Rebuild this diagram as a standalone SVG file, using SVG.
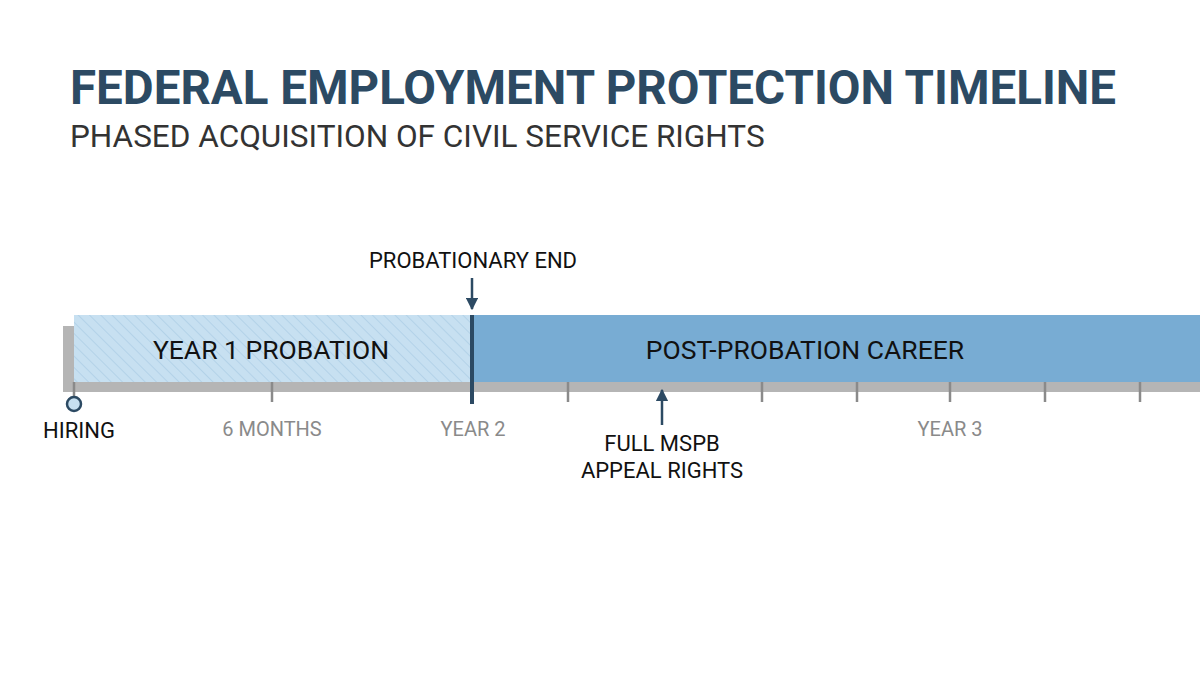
<svg xmlns="http://www.w3.org/2000/svg" width="1200" height="675" viewBox="0 0 1200 675">
<defs>
<pattern id="hatch" width="8" height="8" patternUnits="userSpaceOnUse" patternTransform="rotate(-45)">
<rect width="8" height="8" fill="#c7e0f1"/><line x1="0" y1="0" x2="0" y2="8" stroke="#b3d2e8" stroke-width="2"/>
</pattern>
<marker id="ah" viewBox="0 0 10 10" refX="9" refY="5" markerWidth="5" markerHeight="5" orient="auto"><path d="M0,0L10,5L0,10z" fill="#2c4a63"/></marker>
<style>
text{font-family:Roboto,"Liberation Sans",sans-serif}
.lbl{font-size:26.5px;fill:#111}
.sm{font-size:22px;fill:#111}
.gr{font-size:20px;fill:#8a8a8a}
.tick{stroke:#8a8a8a;stroke-width:2.5}
</style>
</defs>
<rect width="1200" height="675" fill="#fff"/>
<text x="70" y="104" font-size="47.5" font-weight="bold" fill="#2c4a63">FEDERAL EMPLOYMENT PROTECTION TIMELINE</text>
<text x="70" y="147" font-size="31.5" fill="#333">PHASED ACQUISITION OF CIVIL SERVICE RIGHTS</text>
<rect x="63" y="326" width="1137" height="66" fill="#b5b5b5"/>
<g id="probation"><rect x="74" y="315" width="397" height="67" fill="url(#hatch)"/><text class="lbl" x="271" y="359" text-anchor="middle">YEAR 1 PROBATION</text></g>
<g id="career"><rect x="473" y="315" width="727" height="67" fill="#78acd3"/><text class="lbl" x="805" y="359" text-anchor="middle">POST-PROBATION CAREER</text></g>
<g id="ticks">
<line class="tick" x1="74" y1="382" x2="74" y2="398"/>
<line class="tick" x1="272" y1="382" x2="272" y2="402"/>
<line class="tick" x1="568" y1="382" x2="568" y2="402"/>
<line class="tick" x1="762" y1="382" x2="762" y2="402"/>
<line class="tick" x1="857" y1="382" x2="857" y2="402"/>
<line class="tick" x1="950" y1="382" x2="950" y2="402"/>
<line class="tick" x1="1045" y1="382" x2="1045" y2="402"/>
<line class="tick" x1="1140" y1="382" x2="1140" y2="402"/>
</g>
<g id="marker-end"><line x1="472" y1="315" x2="472" y2="404" stroke="#2c4a63" stroke-width="4"/></g>
<g id="hiring"><circle cx="74" cy="404" r="7" fill="#c7e0f1" stroke="#2c4a63" stroke-width="2.5"/><text class="sm" x="79" y="438" text-anchor="middle">HIRING</text></g>
<text class="gr" x="272" y="436" text-anchor="middle">6 MONTHS</text>
<text class="gr" x="473" y="436" text-anchor="middle">YEAR 2</text>
<text class="gr" x="950" y="436" text-anchor="middle">YEAR 3</text>
<g id="connectors">
<line x1="472" y1="278" x2="472" y2="309" stroke="#2c4a63" stroke-width="2.5" marker-end="url(#ah)"/>
<line x1="662" y1="425" x2="662" y2="390" stroke="#2c4a63" stroke-width="2.5" marker-end="url(#ah)"/>
</g>
<g id="probend"><text class="sm" x="473" y="268" text-anchor="middle">PROBATIONARY END</text></g>
<g id="mspb"><text class="sm" x="662" y="451" text-anchor="middle">FULL MSPB</text><text class="sm" x="662" y="478" text-anchor="middle">APPEAL RIGHTS</text></g>
</svg>
